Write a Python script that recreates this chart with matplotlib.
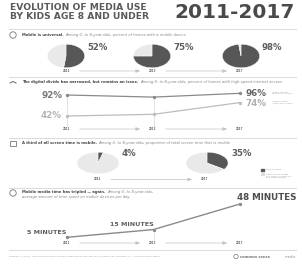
import matplotlib
matplotlib.use("Agg")
import matplotlib.pyplot as plt
from matplotlib.patches import Rectangle, Circle

# ---------------- data ----------------
years3 = ["2011", "2013", "2017"]
mobile_homes = [52, 75, 98]                      # % homes with a mobile device
internet_high = [92, 87, 96]                     # higher income, % high-speed internet
internet_low = [42, 46, 74]                      # lower income
screen_years = ["2011", "2017"]
mobile_share = [4, 35]                           # % of screen time that is mobile
minutes = [5, 15, 48]                            # mobile minutes per day
minute_labels = ["5 MINUTES", "15 MINUTES", "48 MINUTES"]

W, H = 302, 265
DARK = "#575757"
LIGHT = "#e9e9e9"

fig = plt.figure(figsize=(W / 100, H / 100), dpi=100)
fig.patch.set_facecolor("white")

bg = fig.add_axes([0, 0, 1, 1])
bg.set_xlim(0, W)
bg.set_ylim(H, 0)
bg.axis("off")


def px_axes(x0, y0, x1, y1, z=2):
    a = fig.add_axes([x0 / W, 1 - y1 / H, (x1 - x0) / W, (y1 - y0) / H], zorder=z)
    a.axis("off")
    a.patch.set_alpha(0)
    return a


renderer = fig.canvas.get_renderer()


def header(x, y, bold, rest, size=2.7, rest2=None):
    t = bg.text(x, y, bold, fontsize=size, fontweight="bold", color="#444444",
                va="center", ha="left")
    bb = t.get_window_extent(renderer=renderer)
    xr = x + bb.width + 1.5
    bg.text(xr, y, rest, fontsize=size, color="#858585", va="center", ha="left",
            style="italic")
    if rest2:
        bg.text(x, y + 4.5, rest2, fontsize=size, color="#858585", va="center",
                ha="left", style="italic")


def sep(y):
    bg.plot([9, 296], [y, y], color="#dddddd", lw=0.8)


def year_row(xs, labels, y):
    for xx, lab in zip(xs, labels):
        bg.text(xx, y, lab, fontsize=1.9, color="#666666", ha="center", va="center",
                fontweight="bold")
    for a, b in zip(xs[:-1], xs[1:]):
        bg.annotate("", xy=(b - 10, y), xytext=(a + 10, y),
                    arrowprops=dict(arrowstyle="-|>,head_length=0.25,head_width=0.1",
                                    color="#c4c4c4", lw=0.5))


# ---------------- title ----------------
bg.text(10, 7.5, "EVOLUTION OF MEDIA USE", fontsize=6.6, fontweight="bold",
        color="#5a5a5a", va="center", ha="left")
bg.text(10, 16.5, "BY KIDS AGE 8 AND UNDER", fontsize=6.6, fontweight="bold",
        color="#5a5a5a", va="center", ha="left")
bg.text(295, 12, "2011-2017", fontsize=14.5, fontweight="bold", color="#4a4a4a",
        va="center", ha="right")
sep(29)

# ---------------- section 1 ----------------
bg.add_patch(Circle((13, 35), 3.2, fill=False, ec="#777777", lw=0.6))
header(22, 35, "Mobile is universal.",
       "Among 0- to 8-year-olds, percent of homes with a mobile device")
pie_x1 = [66, 152, 241]
for cx, v in zip(pie_x1, mobile_homes):
    a = px_axes(cx - 19, 44, cx + 19, 68)
    a.pie([v, 100 - v], colors=[DARK, LIGHT], startangle=90, counterclock=False,
          wedgeprops=dict(edgecolor="white", linewidth=0.3))
    a.set_aspect("auto")
    a.set_xlim(-1.02, 1.02)
    a.set_ylim(-1.02, 1.02)
    bg.text(cx + 21, 47, f"{v}%", fontsize=6.2, fontweight="bold", color="#5e5e5e",
            ha="left", va="center")
year_row([67, 153, 240], years3, 71)
sep(76.5)

# ---------------- section 2 ----------------
bg.plot([10, 13, 16], [83, 81.5, 83], color="#777777", lw=0.8)
header(22, 82.5, "The digital divide has narrowed, but remains an issue.",
       "Among 0- to 8-year-olds, percent of homes with high-speed internet access")
# axes mapping: px y = 95 at 92%, 0.42 px per %
y0p, y1p = 86, 127
top_val = 92 + (95 - y0p) / 0.42
bot_val = 92 - (y1p - 95) / 0.42
a2 = px_axes(67, y0p, 240, y1p)
a2.set_xlim(0, 2)
a2.set_ylim(bot_val, top_val)
xi = list(range(len(years3)))
a2.vlines(xi, bot_val, internet_high, color="#dddddd", lw=0.6)
a2.plot(xi, internet_high, color="#8a8a8a", lw=0.9, marker="o", ms=1.4, clip_on=False)
a2.plot(xi, internet_low, color="#bdbdbd", lw=0.9, marker="o", ms=1.4, clip_on=False)
bg.text(62, 95, f"{internet_high[0]}%", fontsize=6.3, color="#777777", ha="right",
        va="center", fontweight="bold")
bg.text(62, 116, f"{internet_low[0]}%", fontsize=6.3, color="#b5b5b5", ha="right",
        va="center", fontweight="bold")
bg.text(245, 93.5, f"{internet_high[2]}%", fontsize=6.3, color="#666666", ha="left",
        va="center", fontweight="bold")
bg.text(245, 103, f"{internet_low[2]}%", fontsize=6.3, color="#b0b0b0", ha="left",
        va="center", fontweight="bold")
bg.text(272, 93.5, "Higher income\n($75,000+ a year)", fontsize=1.6, color="#999999",
        ha="left", va="center", linespacing=1.0)
bg.text(272, 103, "Lower income\n(<$30,000 a year)", fontsize=1.6, color="#999999",
        ha="left", va="center", linespacing=1.0)
year_row([67, 153, 240], years3, 129)
sep(137.5)

# ---------------- section 3 ----------------
bg.add_patch(Rectangle((10, 140.5), 6, 5, fill=False, ec="#777777", lw=0.6))
header(22, 143, "A third of all screen time is mobile.",
       "Among 0- to 8-year-olds, proportion of total screen time that is mobile")
pie_x3 = [98, 207]
for cx, v in zip(pie_x3, mobile_share):
    a = px_axes(cx - 21.5, 152, cx + 21.5, 174)
    a.pie([v, 100 - v], colors=[DARK, LIGHT], startangle=90, counterclock=False,
          wedgeprops=dict(edgecolor="white", linewidth=0.3))
    a.set_aspect("auto")
    a.set_xlim(-1.02, 1.02)
    a.set_ylim(-1.02, 1.02)
    bg.text(cx + 24, 154, f"{v}%", fontsize=6.2, fontweight="bold", color="#5e5e5e",
            ha="left", va="center")
bg.add_patch(Rectangle((261, 168.5), 3, 2, color=DARK))
bg.text(266, 169.5, "Mobile media", fontsize=1.6, color="#999999", va="center")
bg.add_patch(Rectangle((261, 173), 3, 2, color="#dddddd"))
bg.text(266, 176, "Other screen media\n(TV, DVDs, computers,\nand video games)",
        fontsize=1.6, color="#999999", va="center", linespacing=1.0)
year_row([98, 205], screen_years, 179.5)
sep(187.5)

# ---------------- section 4 ----------------
bg.add_patch(Circle((13, 193), 3.2, fill=False, ec="#777777", lw=0.6))
header(22, 192.5, "Mobile media time has tripled \u2014 again.", "Among 0- to 8-year-olds,",
       rest2="average amount of time spent on mobile devices per day")
# mapping: 5 min -> px 237.3, 0.775 px per min
y0p, y1p = 200, 241
top_m = 5 + (237.3 - y0p) / 0.775
bot_m = 5 - (y1p - 237.3) / 0.775
a4 = px_axes(67, y0p, 240, y1p)
a4.set_xlim(0, 2)
a4.set_ylim(bot_m, top_m)
a4.vlines(xi, bot_m, minutes, color="#dddddd", lw=0.6)
a4.plot(xi, minutes, color="#8a8a8a", lw=1.0, marker="o", ms=1.4, clip_on=False)
bg.text(47, 232, minute_labels[0], fontsize=4.6, fontweight="bold", color="#5e5e5e",
        ha="center", va="center")
bg.text(132, 224, minute_labels[1], fontsize=4.6, fontweight="bold", color="#5e5e5e",
        ha="center", va="center")
bg.text(267, 198, minute_labels[2], fontsize=6.3, fontweight="bold", color="#4e4e4e",
        ha="center", va="center")
year_row([67, 153, 240], years3, 243)
sep(249.5)

# ---------------- footer ----------------
bg.text(9, 256.5, "Rideout, V. (2017). The Common Sense census: Media use by kids age zero "
        "to eight. San Francisco, CA: Common Sense Media.", fontsize=1.75,
        color="#999999", ha="left", va="center")
bg.add_patch(Circle((236, 256.5), 2.2, fill=False, ec="#777777", lw=0.5))
bg.text(240, 256.5, "common sense", fontsize=2.6, fontweight="bold", color="#777777",
        ha="left", va="center")
bg.text(296, 256.5, "media", fontsize=2.6, color="#999999", ha="right", va="center")

fig.savefig("out.png", dpi=100, facecolor="white")
